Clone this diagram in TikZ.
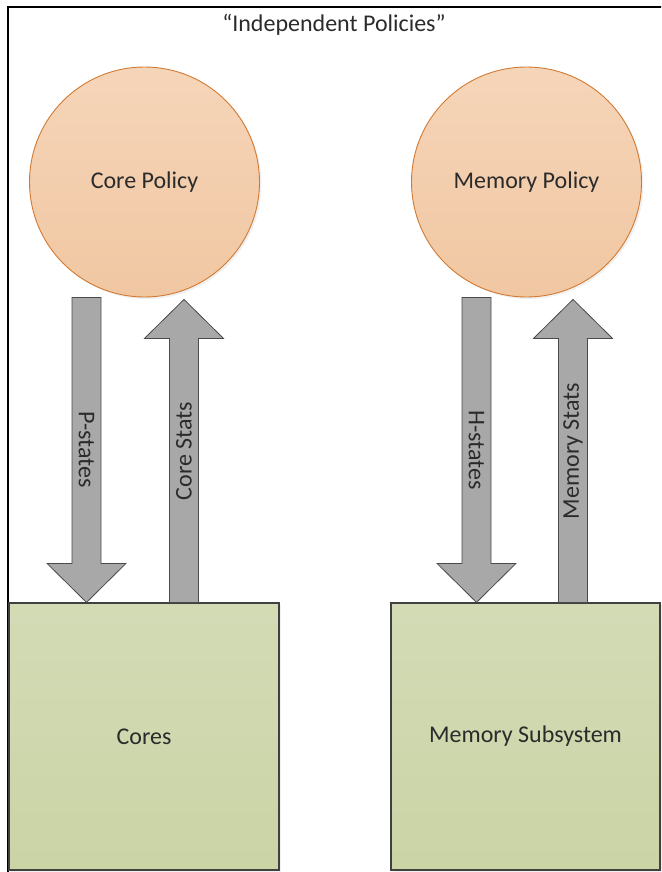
\documentclass[tikz,border=0pt]{standalone}
\usepackage{fontspec}
\setmainfont{Carlito}
\usepackage{tikz}
\usetikzlibrary{calc, shadows}
\definecolor{ptop}{HTML}{F5D5B9}
\definecolor{pbot}{HTML}{F1C7A2}
\definecolor{pedge}{HTML}{D27A32}
\definecolor{btop}{HTML}{D3DBB6}
\definecolor{bbot}{HTML}{CAD4A5}
\definecolor{bedge}{HTML}{404040}
\definecolor{agray}{HTML}{A8A8A8}
\definecolor{aedge}{HTML}{4A4A4A}
\definecolor{tdark}{HTML}{2B2B2B}

\tikzset{
  policy/.style={circle, draw=pedge, line width=0.9pt, top color=ptop, bottom color=pbot,
    minimum size=230pt, inner sep=0pt, text=tdark, font=\fontsize{24}{28}\selectfont,
    drop shadow={opacity=0.12, shadow xshift=2pt, shadow yshift=-2pt}},
  subsys/.style={rectangle, draw=bedge, line width=1.2pt, top color=btop, bottom color=bbot,
    minimum width=270pt, minimum height=267pt, inner sep=0pt, text=tdark,
    font=\fontsize{24}{28}\selectfont,
    drop shadow={opacity=0.12, shadow xshift=2pt, shadow yshift=-2pt}},
  fatbody/.style={fill=agray, draw=aedge, line width=0.8pt, line join=miter},
  fatarrow/.style={to path={
    let \p1=(\tikztostart), \p2=(\tikztotarget),
        \p3=($(\tikztotarget)!39pt!(\tikztostart)$) in
    (\x1-14.5pt,\y1) -- (\x1-14.5pt,\y3) -- (\x1-39.5pt,\y3) -- (\x2,\y2)
    -- (\x1+39.5pt,\y3) -- (\x1+14.5pt,\y3) -- (\x1+14.5pt,\y1) -- cycle}},
  arrlabel/.style={inner sep=0pt, text=tdark, font=\fontsize{24}{28}\selectfont}
}

\begin{document}
\begin{tikzpicture}[x=1pt, y=-1pt]
  \useasboundingbox (0,0) rectangle (661,872);

  %% Frame and title
  \begin{scope}
    \clip (0,0) rectangle (661,872);
    \draw[black, line width=1.3pt] (8,7) rectangle (680,890);
  \end{scope}
  \node[text=tdark, font=\fontsize{24}{28}\selectfont] (title) at (334,25)
    {“Independent Policies”};

  %% Policies
  \node[policy] (corepol) at (144.5,182) {Core Policy};
  \node[policy] (mempol) at (526.5,182) {Memory Policy};

  %% Subsystems
  \node[subsys] (cores) at (144,736.5) {Cores};
  \node[subsys, minimum width=269pt] (memsub) at (525.5,736.5) {Memory Subsystem};

  %% ── Core side ─────────────────────────────────────────────
  \coordinate (ps-a) at ([xshift=-58pt]corepol.south);
  \coordinate (ps-b) at (ps-a |- cores.north);
  \coordinate (cs-b) at ([xshift=39.5pt, yshift=-2pt]corepol.south);
  \coordinate (cs-a) at (cs-b |- cores.north);
  \draw[fatbody] (ps-a) to[fatarrow] (ps-b);
  \draw[fatbody] (cs-a) to[fatarrow] (cs-b);
  \node[arrlabel, rotate=-90] (pslab) at ($(ps-a)!0.5!(ps-b)$) {P-states};
  \node[arrlabel, rotate=90] (cslab) at ($(cs-a)!0.5!(cs-b)$) {Core Stats};

  %% ── Memory side ───────────────────────────────────────────
  \coordinate (hs-a) at ([xshift=-50pt]mempol.south);
  \coordinate (hs-b) at (hs-a |- memsub.north);
  \coordinate (ms-b) at ([xshift=46.5pt, yshift=-2pt]mempol.south);
  \coordinate (ms-a) at (ms-b |- memsub.north);
  \draw[fatbody] (hs-a) to[fatarrow] (hs-b);
  \draw[fatbody] (ms-a) to[fatarrow] (ms-b);
  \node[arrlabel, rotate=-90] (hslab) at ($(hs-a)!0.5!(hs-b)$) {H-states};
  \node[arrlabel, rotate=90] (mslab) at ($(ms-a)!0.5!(ms-b)$) {Memory Stats};

\end{tikzpicture}
\end{document}
